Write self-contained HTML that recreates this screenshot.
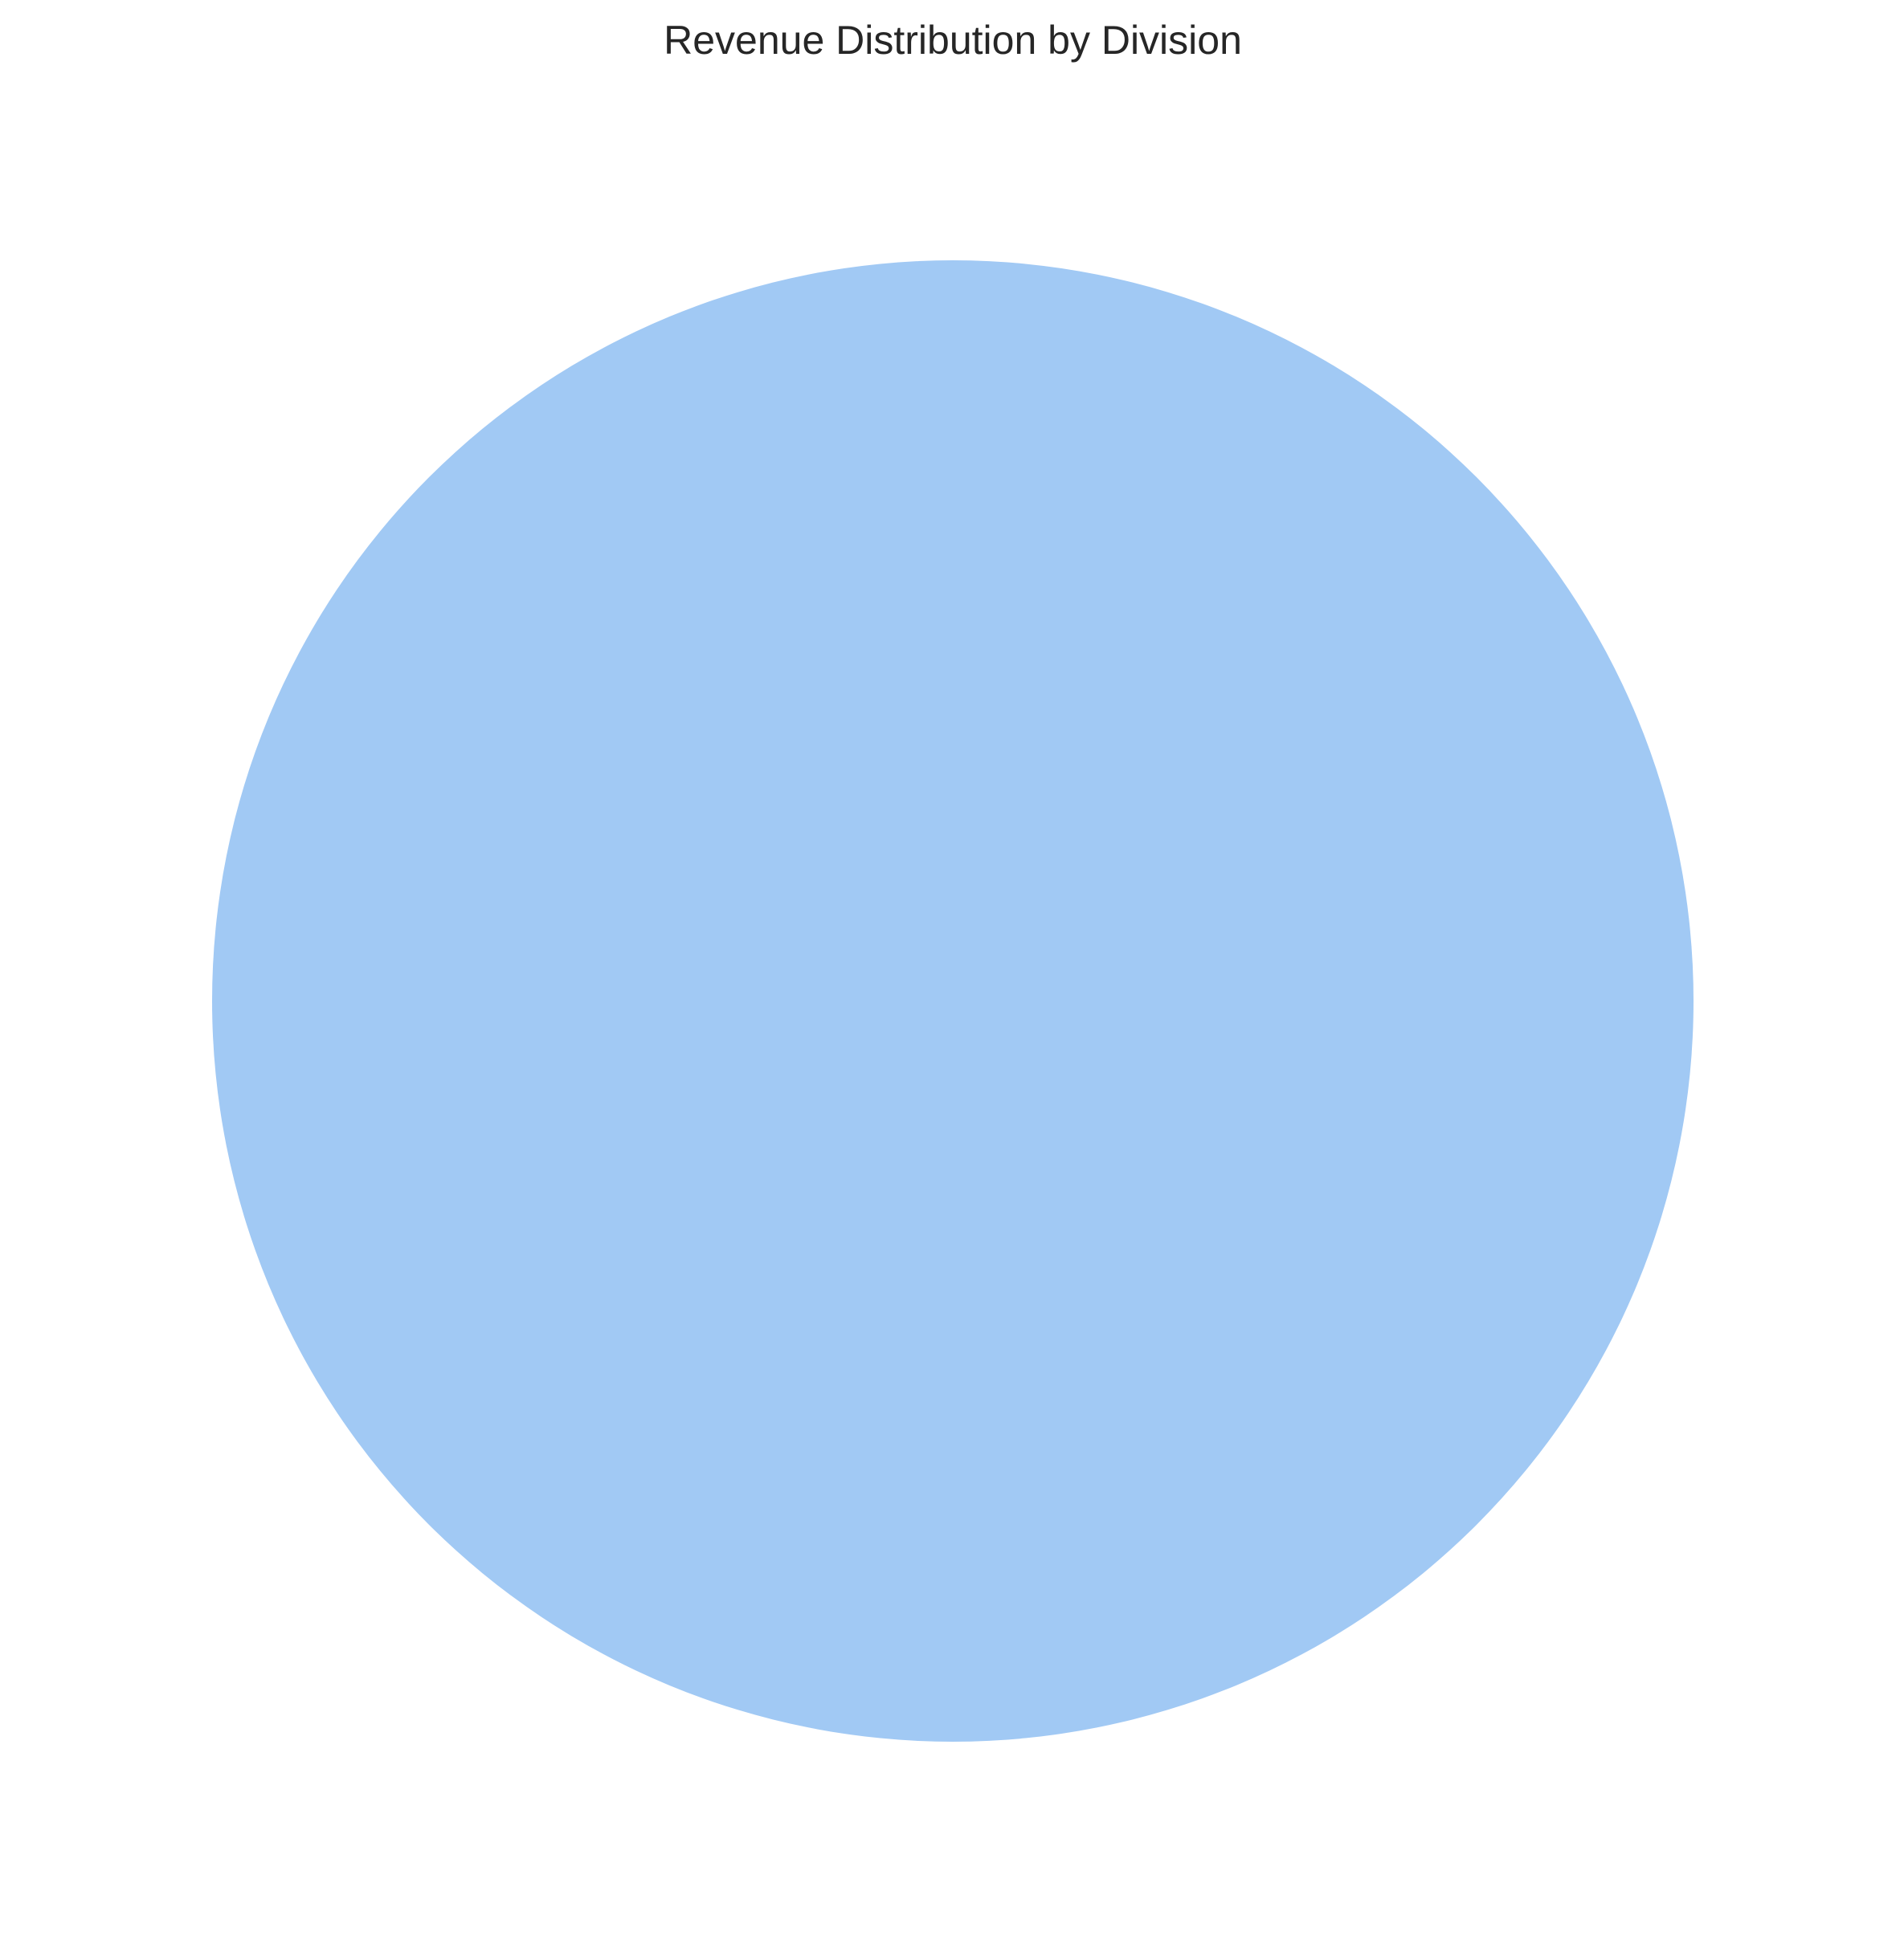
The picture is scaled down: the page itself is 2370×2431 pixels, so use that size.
<!DOCTYPE html>
<html>
<head>
<meta charset="utf-8">
<style>
html,body{margin:0;padding:0;background:#fff;}
svg{display:block;}
</style>
</head>
<body>
<svg id="chart" width="2370" height="2431" viewBox="0 0 2370 2431" xmlns="http://www.w3.org/2000/svg">
<rect width="2370" height="2431" fill="#ffffff"/>
<text x="1186" y="67" text-anchor="middle" font-family="Liberation Sans, sans-serif" font-size="50" fill="#262626">Revenue Distribution by Division</text>
<g id="slices"></g>
</svg>
<script>
const categories = ["Division A"];
const values = [100];
const colors = ["#a1c9f4"];

const cx = 1186, cy = 1246, r = 922;
const g = document.getElementById('slices');
const ns = 'http://www.w3.org/2000/svg';
const total = values.reduce((a, b) => a + b, 0);
let ang = Math.PI / 2;
values.forEach((v, i) => {
  const frac = v / total;
  let el;
  if (frac >= 0.9999) {
    el = document.createElementNS(ns, 'circle');
    el.setAttribute('cx', cx);
    el.setAttribute('cy', cy);
    el.setAttribute('r', r);
  } else {
    const a0 = ang, a1 = ang + frac * 2 * Math.PI;
    const x0 = cx + r * Math.cos(a0), y0 = cy - r * Math.sin(a0);
    const x1 = cx + r * Math.cos(a1), y1 = cy - r * Math.sin(a1);
    el = document.createElementNS(ns, 'path');
    el.setAttribute('d', `M${cx},${cy} L${x0},${y0} A${r},${r} 0 ${frac > 0.5 ? 1 : 0} 0 ${x1},${y1} Z`);
    ang = a1;
  }
  el.setAttribute('fill', colors[i % colors.length]);
  
  
  g.appendChild(el);
});
</script>
</body>
</html>
